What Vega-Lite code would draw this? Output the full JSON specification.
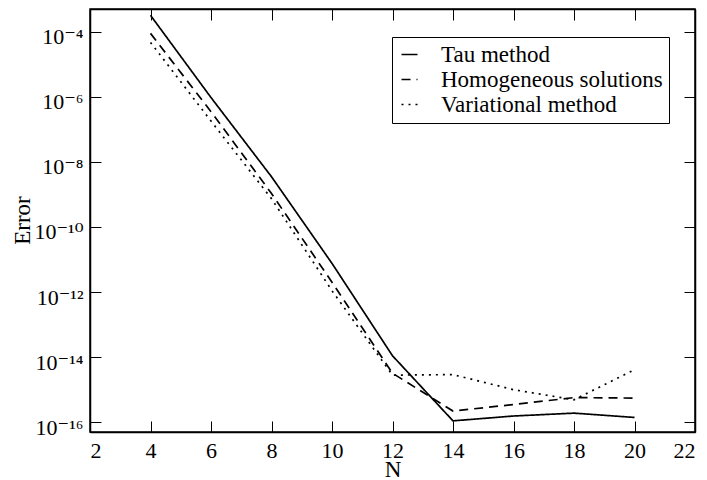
{
  "$schema": "https://vega.github.io/schema/vega-lite/v6.json",
  "width": 605,
  "height": 423,
  "autosize": "none",
  "padding": {"left": 90, "top": 9, "right": 12, "bottom": 48},
  "background": "white",
  "config": {
    "font": "Liberation Serif",
    "view": {"stroke": "black", "strokeWidth": 1.5},
    "axis": {
      "domainColor": "black",
      "domainWidth": 1.5,
      "tickColor": "black",
      "tickWidth": 1,
      "tickSize": -11,
      "grid": false,
      "labelFont": "Liberation Serif, DejaVu Serif",
      "labelFontSize": 22,
      "labelColor": "black",
      "titleFont": "Liberation Serif",
      "titleFontSize": 23,
      "titleFontWeight": "normal",
      "titleColor": "black"
    }
  },
  "data": {
    "values": [
      {"N": 4, "Error": 3.2e-4, "Method": "Tau method"},
      {"N": 6, "Error": 9.5e-7, "Method": "Tau method"},
      {"N": 8, "Error": 3.5e-9, "Method": "Tau method"},
      {"N": 10, "Error": 7.6e-12, "Method": "Tau method"},
      {"N": 12, "Error": 1.1e-14, "Method": "Tau method"},
      {"N": 14, "Error": 1.1e-16, "Method": "Tau method"},
      {"N": 16, "Error": 1.55e-16, "Method": "Tau method"},
      {"N": 18, "Error": 1.9e-16, "Method": "Tau method"},
      {"N": 20, "Error": 1.4e-16, "Method": "Tau method"},
      {"N": 4, "Error": 8.9e-5, "Method": "Homogeneous solutions"},
      {"N": 6, "Error": 3.5e-7, "Method": "Homogeneous solutions"},
      {"N": 8, "Error": 1.07e-9, "Method": "Homogeneous solutions"},
      {"N": 10, "Error": 2.0e-12, "Method": "Homogeneous solutions"},
      {"N": 12, "Error": 3.2e-15, "Method": "Homogeneous solutions"},
      {"N": 14, "Error": 2.2e-16, "Method": "Homogeneous solutions"},
      {"N": 16, "Error": 3.5e-16, "Method": "Homogeneous solutions"},
      {"N": 18, "Error": 5.7e-16, "Method": "Homogeneous solutions"},
      {"N": 20, "Error": 5.5e-16, "Method": "Homogeneous solutions"},
      {"N": 4, "Error": 4.7e-5, "Method": "Variational method"},
      {"N": 6, "Error": 1.8e-7, "Method": "Variational method"},
      {"N": 8, "Error": 7.4e-10, "Method": "Variational method"},
      {"N": 10, "Error": 1.1e-12, "Method": "Variational method"},
      {"N": 12, "Error": 2.8e-15, "Method": "Variational method"},
      {"N": 14, "Error": 2.9e-15, "Method": "Variational method"},
      {"N": 16, "Error": 1.0e-15, "Method": "Variational method"},
      {"N": 18, "Error": 4.9e-16, "Method": "Variational method"},
      {"N": 20, "Error": 4.1e-15, "Method": "Variational method"}
    ]
  },
  "layer": [
    {
      "mark": {"type": "line", "color": "black", "strokeWidth": 1.7},
      "encoding": {
        "x": {
          "field": "N",
          "type": "quantitative",
          "scale": {"domain": [2, 22], "nice": false, "zero": false},
          "axis": {
            "values": [2, 4, 6, 8, 10, 12, 14, 16, 18, 20, 22],
            "title": "N",
            "labelPadding": 19,
            "labelBaseline": "top",
            "titleY": 44,
            "titleBaseline": "alphabetic"
          }
        },
        "y": {
          "field": "Error",
          "type": "quantitative",
          "scale": {"type": "log", "domain": [5e-17, 5e-4], "nice": false},
          "axis": {
            "values": [1e-16, 1e-14, 1e-12, 1e-10, 1e-8, 1e-6, 1e-4],
            "labelExpr": "'10⁻' + ['','','','','⁴','','⁶','','⁸','','¹⁰','','¹²','','¹⁴','','¹⁶'][-round(log(datum.value)/LN10)]",
            "title": "Error",
            "labelPadding": 18,
            "labelOffset": 5,
            "titleX": -61,
            "titleY": 211,
            "titleAnchor": "middle",
            "titleBaseline": "alphabetic"
          }
        },
        "strokeDash": {
          "field": "Method",
          "type": "nominal",
          "scale": {
            "domain": ["Tau method", "Homogeneous solutions", "Variational method"],
            "range": [[1, 0], [9, 6], [2, 5]]
          },
          "legend": {
            "title": null,
            "orient": "none",
            "legendX": 302,
            "legendY": 28,
            "padding": 6,
            "strokeColor": "black",
            "fillColor": "white",
            "symbolType": "stroke",
            "symbolStrokeColor": "black",
            "symbolStrokeWidth": 1.7,
            "symbolSize": 256,
            "labelFont": "Liberation Serif",
            "labelFontSize": 23,
            "labelColor": "black",
            "labelOffset": 20,
            "rowPadding": 1,
            "labelLimit": 400
          }
        }
      }
    },
    {
      "mark": {"type": "line", "opacity": 0},
      "encoding": {
        "x": {
          "field": "N",
          "type": "quantitative",
          "axis": {
            "orient": "top",
            "values": [2, 4, 6, 8, 10, 12, 14, 16, 18, 20, 22],
            "labels": false,
            "title": null
          }
        },
        "y": {
          "field": "Error",
          "type": "quantitative",
          "axis": {
            "orient": "right",
            "values": [1e-16, 1e-14, 1e-12, 1e-10, 1e-8, 1e-6, 1e-4],
            "labels": false,
            "title": null
          }
        },
        "detail": {"field": "Method"}
      }
    }
  ],
  "resolve": {"axis": {"x": "independent", "y": "independent"}}
}
